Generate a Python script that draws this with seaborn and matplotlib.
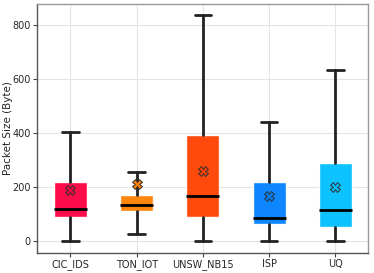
import matplotlib
matplotlib.use('Agg')
import matplotlib.pyplot as plt
import seaborn as sns

# Box statistics (Packet Size, Byte)
datasets = ['CIC_IDS', 'TON_IOT', 'UNSW_NB15', 'ISP', 'UQ']
whislo = [0, 29, 0, 0, 0]
q1 = [89, 113, 89, 66, 52]
median = [118, 135, 168, 88, 116]
q3 = [220, 173, 394, 221, 288]
whishi = [403, 256, 837, 441, 632]
means = [189, 211, 259, 167, 202]
colors = ['#ff0040', '#ff8000', '#ff4000', '#0080ff', '#00bfff']

sns.set_theme(style='whitegrid')
plt.rcParams['font.family'] = ['DejaVu Sans']

fig, ax = plt.subplots(figsize=(3.74, 2.73), dpi=100)

stats = []
for i, name in enumerate(datasets):
    stats.append({'label': name, 'whislo': whislo[i], 'q1': q1[i], 'med': median[i],
                  'q3': q3[i], 'whishi': whishi[i], 'mean': means[i], 'fliers': []})

bp = ax.bxp(stats, positions=range(len(datasets)), widths=0.5, patch_artist=True,
            showmeans=True,
            medianprops=dict(color='black', linewidth=2),
            whiskerprops=dict(color='#222222', linewidth=2),
            capprops=dict(color='#222222', linewidth=2),
            meanprops=dict(marker='X', markersize=7, markeredgecolor='#333333',
                           markeredgewidth=0.7))

for patch, mean_line, c in zip(bp['boxes'], bp['means'], colors):
    patch.set_facecolor(c)
    patch.set_edgecolor('#ffffff')
    patch.set_alpha(0.95)
    patch.set_linewidth(1)
    mean_line.set_markerfacecolor(c)

ax.set_xlim(-0.5, 4.5)
ax.set_ylim(-41, 877)
ax.set_yticks([0, 200, 400, 600, 800])
ax.set_ylabel('Packet Size (Byte)', fontsize=7.5)
ax.yaxis.set_label_coords(-0.075, 0.5)
ax.tick_params(axis='both', labelsize=7, length=3, width=0.8, color='#444444',
               left=True, bottom=True, pad=2)
ax.grid(True, color='#e4e4e4', linewidth=0.8)
ax.set_axisbelow(True)
ax.set_facecolor('white')
for side in ['left', 'bottom']:
    ax.spines[side].set_color('#555555')
for side in ['top', 'right']:
    ax.spines[side].set_color('#999999')
for s in ax.spines.values():
    s.set_linewidth(1)

fig.subplots_adjust(left=0.1, right=0.985, top=0.985, bottom=0.075)
fig.savefig('out.png', dpi=100)
